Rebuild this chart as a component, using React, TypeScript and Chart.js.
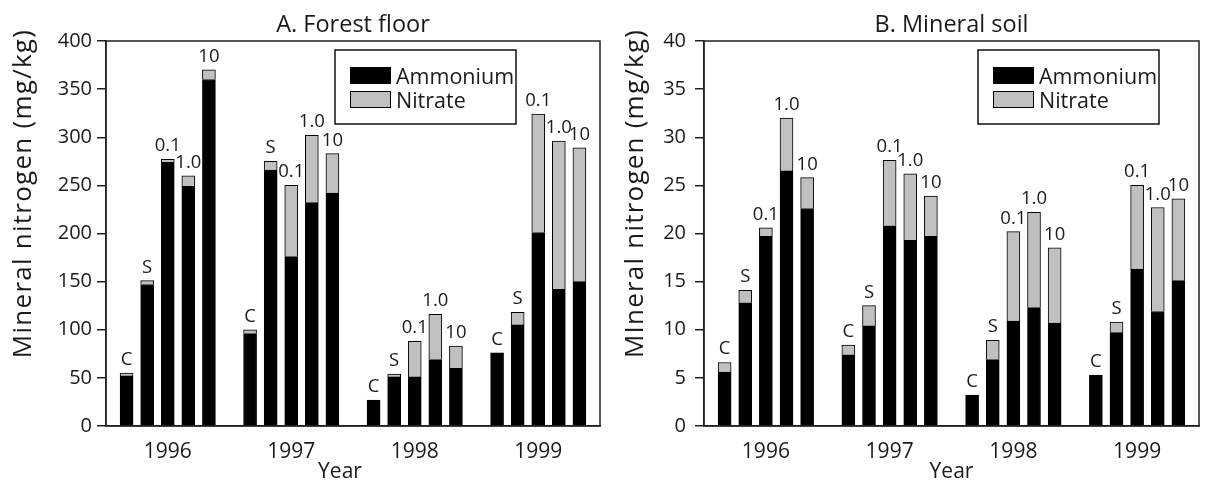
import React, { useEffect, useRef } from 'react';
import { Chart, registerables } from 'chart.js';

Chart.register(...registerables);

// ---------- data ----------
const YEARS = ['1996', '1997', '1998', '1999'];
const TREATMENTS = ['C', 'S', '0.1', '1.0', '10'];

// A. Forest floor (mg/kg) — per year: C, S, 0.1, 1.0, 10
const forestAmmonium = [
  52, 147, 274, 249, 360,
  96, 266, 176, 232, 242,
  27, 51, 51, 69, 60,
  76, 105, 201, 142, 150,
];
const forestNitrate = [
  3, 4, 3, 11, 10,
  4, 9, 74, 70, 41,
  0, 3, 37, 47, 23,
  0, 13, 123, 154, 139,
];

// B. Mineral soil (mg/kg)
const soilAmmonium = [
  5.6, 12.8, 19.7, 26.5, 22.6,
  7.4, 10.4, 20.8, 19.3, 19.7,
  3.2, 6.9, 10.9, 12.3, 10.7,
  5.3, 9.7, 16.3, 11.9, 15.1,
];
const soilNitrate = [
  1.0, 1.3, 0.9, 5.5, 3.2,
  1.0, 2.1, 6.8, 6.9, 4.2,
  0, 2.0, 9.3, 9.9, 7.8,
  0, 1.1, 8.7, 10.8, 8.5,
];

const FOREST_MAX = 400;
const FOREST_STEP = 50;
const SOIL_MAX = 40;
const SOIL_STEP = 5;

// ---------- helpers ----------
const SLOT_COUNT = YEARS.length * (TREATMENTS.length + 1) + 1; // gap slots between groups and at edges
const slotIndex = (g: number, i: number) => 1 + g * (TREATMENTS.length + 1) + i;

function toSlots(values: number[]) {
  const out: (number | null)[] = new Array(SLOT_COUNT).fill(null);
  YEARS.forEach((_, g) =>
    TREATMENTS.forEach((_, i) => {
      const v = values[g * TREATMENTS.length + i];
      out[slotIndex(g, i)] = v > 0 ? v : null;
    })
  );
  return out;
}

const slotYearLabels: string[] = Array.from({ length: SLOT_COUNT }, () => '');
YEARS.forEach((y, g) => {
  slotYearLabels[slotIndex(g, 2)] = y;
});
const slotTreatment: (string | null)[] = new Array(SLOT_COUNT).fill(null);
YEARS.forEach((_, g) => TREATMENTS.forEach((t, i) => (slotTreatment[slotIndex(g, i)] = t)));

const FONT = '"Open Sans", "DejaVu Sans", sans-serif';
const INK = '#1a1a1a';

const decorPlugin = {
  id: 'decor',
  afterDatasetsDraw(chart: any, _args: any, opts: any) {
    const ctx = chart.ctx as CanvasRenderingContext2D;
    const a = chart.chartArea;
    ctx.save();

    // frame
    ctx.strokeStyle = '#222';
    ctx.lineWidth = 1.5;
    ctx.strokeRect(a.left, a.top, a.right - a.left, a.bottom - a.top);

    // labels above bars
    const m0 = chart.getDatasetMeta(0);
    const m1 = chart.getDatasetMeta(1);
    const d1 = chart.data.datasets[1].data;
    ctx.fillStyle = INK;
    ctx.font = `18.5px ${FONT}`;
    ctx.textAlign = 'center';
    ctx.textBaseline = 'alphabetic';
    for (let s = 0; s < SLOT_COUNT; s++) {
      const t = slotTreatment[s];
      if (!t) continue;
      const el = d1[s] != null ? m1.data[s] : m0.data[s];
      if (!el) continue;
      ctx.fillText(t, el.x, el.y - 8);
    }

    // legend box
    const bw = 181, bh = 74;
    const bx = a.right - opts.legendRight - bw;
    const by = a.top + 9;
    ctx.lineWidth = 1.5;
    ctx.strokeStyle = '#111';
    ctx.strokeRect(bx, by, bw, bh);
    const ds = chart.data.datasets;
    ctx.font = `21.5px ${FONT}`;
    ctx.textAlign = 'left';
    ds.forEach((d: any, k: number) => {
      const sy = by + 17 + k * 24;
      ctx.fillStyle = d.backgroundColor;
      ctx.fillRect(bx + 15, sy, 41, 17);
      ctx.lineWidth = 1;
      ctx.strokeStyle = '#000';
      ctx.strokeRect(bx + 15.5, sy + 0.5, 40, 16);
      ctx.fillStyle = INK;
      ctx.fillText(d.label, bx + 61, by + 34 + k * 24);
    });

    // panel title
    ctx.font = `23.5px ${FONT}`;
    ctx.textAlign = 'center';
    ctx.fillStyle = INK;
    ctx.fillText(opts.title, (a.left + a.right) / 2, 32);

    // x axis title
    ctx.font = `21px ${FONT}`;
    ctx.fillText(opts.xTitle, (a.left + a.right) / 2 + opts.xTitleShift, 478);

    // y axis title
    ctx.font = `26px ${FONT}`;
    const text = opts.yTitle as string;
    const natural = ctx.measureText(text).width;
    const spacing = Math.max(0, (328 - natural) / (text.length - 1));
    (ctx as any).letterSpacing = `${spacing}px`;
    ctx.translate(opts.yTitleX, 193.5);
    ctx.rotate(-Math.PI / 2);
    ctx.textAlign = 'center';
    ctx.fillText(text, 0, 0);
    ctx.restore();
  },
};

type PanelProps = {
  width: number;
  ammonium: number[];
  nitrate: number[];
  max: number;
  step: number;
  yWidth: number;
  rightPad: number;
  tickPad: number;
  title: string;
  yTitle: string;
  yTitleX: number;
  legendRight: number;
  xTitleShift: number;
};

function Panel(p: PanelProps) {
  const ref = useRef<HTMLCanvasElement | null>(null);
  useEffect(() => {
    if (!ref.current) return;
    const chart = new Chart(ref.current, {
      type: 'bar',
      data: {
        labels: slotYearLabels,
        datasets: [
          {
            label: 'Ammonium',
            data: toSlots(p.ammonium),
            backgroundColor: '#000000',
            borderColor: '#000000',
            borderWidth: 1,
            barThickness: 13,
          },
          {
            label: 'Nitrate',
            data: toSlots(p.nitrate),
            backgroundColor: '#c0c0c0',
            borderColor: '#000000',
            borderWidth: 1,
            barThickness: 13,
          },
        ],
      },
      options: {
        animation: false,
        responsive: false,
        maintainAspectRatio: false,
        layout: { padding: { left: 0, right: p.rightPad, top: 41, bottom: 0 } },
        plugins: {
          legend: { display: false },
          title: { display: false },
          tooltip: { enabled: false },
          decor: {
            title: p.title,
            yTitle: p.yTitle,
            yTitleX: p.yTitleX,
            legendRight: p.legendRight,
            xTitle: 'Year',
            xTitleShift: p.xTitleShift,
          },
        } as any,
        scales: {
          x: {
            type: 'category',
            stacked: true,
            offset: false,
            grid: { display: false },
            border: { display: true, color: '#222', width: 1.5 },
            ticks: {
              autoSkip: false,
              maxRotation: 0,
              minRotation: 0,
              padding: 5,
              color: INK,
              font: { family: FONT, size: 21 },
              callback: (_v: any, i: number) => slotYearLabels[i],
            },
            afterFit: (s: any) => {
              s.height = 56;
            },
          },
          y: {
            stacked: true,
            min: 0,
            max: p.max,
            grid: { drawOnChartArea: false, drawTicks: true, tickLength: 9, color: '#222', lineWidth: 1.5 },
            border: { display: true, color: '#222', width: 1.5 },
            ticks: {
              stepSize: p.step,
              padding: p.tickPad,
              color: INK,
              font: { family: FONT, size: 20 },
            },
            afterFit: (s: any) => {
              s.width = p.yWidth;
            },
          },
        },
      },
      plugins: [decorPlugin],
    } as any);
    return () => chart.destroy();
  }, []);
  return (
    <canvas
      ref={ref}
      width={p.width}
      height={482}
      style={{ display: 'block', width: p.width, height: 482 }}
    />
  );
}

export default function App() {
  return (
    <div
      style={{
        position: 'absolute',
        left: 0,
        top: 0,
        width: 1205,
        height: 482,
        display: 'flex',
        background: '#fff',
      }}
    >
      <Panel
        width={605}
        ammonium={forestAmmonium}
        nitrate={forestNitrate}
        max={FOREST_MAX}
        step={FOREST_STEP}
        yWidth={106}
        rightPad={2}
        tickPad={5}
        title="A. Forest floor"
        yTitle="Mineral nitrogen (mg/kg)"
        yTitleX={31}
        legendRight={84}
        xTitleShift={-13}
      />
      <Panel
        width={600}
        ammonium={soilAmmonium}
        nitrate={soilNitrate}
        max={SOIL_MAX}
        step={SOIL_STEP}
        yWidth={99}
        rightPad={6}
        tickPad={9}
        title="B. Mineral soil"
        yTitle="MIneral nitrogen (mg/kg)"
        yTitleX={38}
        legendRight={40}
        xTitleShift={0}
      />
    </div>
  );
}
